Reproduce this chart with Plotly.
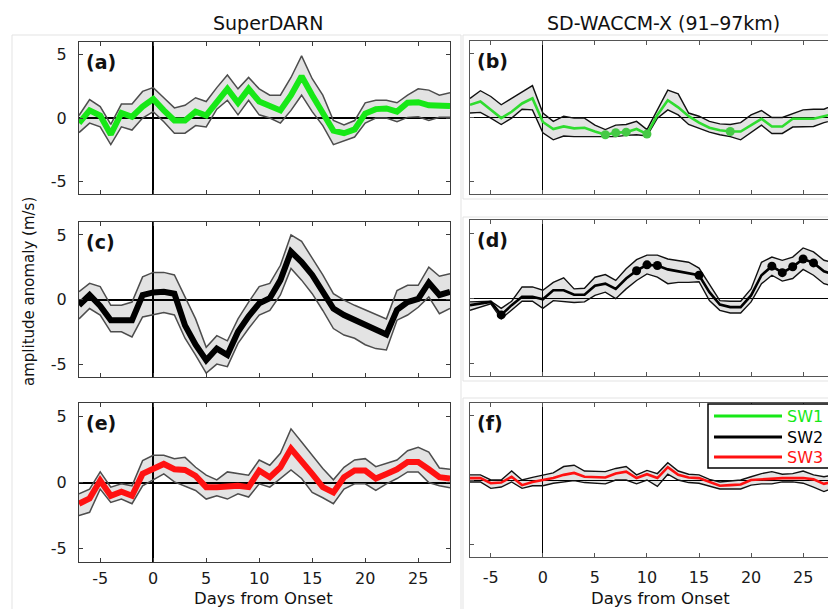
import plotly.graph_objects as go

# ---------------------------------------------------------------- data
days = list(range(-7, 29))
x_tick_vals = [-5, 0, 5, 10, 15, 20, 25]
x_tick_text = ["-5", "0", "5", "10", "15", "20", "25"]
y_tick_vals = [-5, 0, 5]
y_tick_text = ["-5", "0", "5"]

# SuperDARN, SW1
sd_sw1 = [-0.4, 0.6, 0.2, -1.3, 0.4, 0.1, 0.9, 1.5, 0.6, -0.2, -0.2, 0.5, 0.2, 1.3, 2.3, 1.2, 2.3, 1.3,
          0.9, 0.6, 1.8, 3.3, 1.8, 0.5, -1.0, -1.2, -0.9, 0.35, 0.7, 0.75, 0.5, 1.2, 1.25, 1.0, 0.95, 0.95]
sd_sw1_hi = [0.2, 1.45, 0.9, -0.5, 1.1, 1.1, 2.1, 2.4, 1.6, 0.8, 1.0, 1.6, 1.3, 2.4, 3.4, 2.3, 3.2, 2.3,
             1.8, 1.8, 3.2, 4.9, 3.1, 1.8, -0.2, -0.55, -0.2, 1.2, 1.4, 1.4, 1.2, 1.8, 2.3, 2.2, 1.8, 2.0]
sd_sw1_lo = [-1.15, -0.4, -0.7, -2.1, -0.7, -0.95, 0.0, 0.5, -0.3, -1.2, -1.2, -0.6, -0.7, 0.7, 1.4, 0.25,
             1.4, 0.25, 0.0, -0.4, 0.6, 1.8, 0.5, -0.6, -2.1, -1.8, -1.5, -0.4, 0.0, 0.0, -0.3, 0.05, 0.1,
             -0.2, 0.05, 0.05]

# SuperDARN, SW2
sd_sw2 = [-0.45, 0.35, -0.5, -1.6, -1.6, -1.6, 0.35, 0.55, 0.6, 0.45, -2.0, -3.5, -4.7, -3.8, -4.3, -2.5,
          -1.3, -0.3, 0.1, 1.5, 3.7, 2.9, 1.9, 0.6, -0.7, -1.2, -1.6, -2.0, -2.3, -2.7, -0.8, -0.2, 0.05,
          1.3, 0.35, 0.6]
sd_sw2_hi = [0.6, 1.25, 1.0, -0.45, -0.45, -0.2, 1.75, 2.1, 2.1, 1.9, 0.2, -1.5, -3.7, -2.8, -3.2, -1.5,
             -0.2, 1.0, 1.25, 2.65, 5.0, 4.5, 3.2, 1.9, 0.45, -0.05, -0.45, -0.8, -1.1, -1.5, 0.7, 1.1,
             1.1, 2.5, 1.8, 2.0]
sd_sw2_lo = [-1.5, -0.7, -1.2, -2.5, -2.5, -2.9, -1.35, -1.2, -1.0, -1.2, -3.0, -4.3, -5.7, -5.0, -5.2,
             -3.4, -2.25, -1.2, -0.85, 0.35, 2.4, 1.5, 0.45, -0.85, -2.25, -2.75, -3.0, -3.5, -3.8, -3.9,
             -1.6, -1.2, -0.6, 0.2, -1.1, -0.7]

# SuperDARN, SW3
sd_sw3 = [-1.6, -1.2, 0.15, -1.0, -0.7, -1.0, 0.65, 1.0, 1.4, 1.0, 0.95, 0.5, -0.35, -0.35, -0.25, -0.25,
          -0.35, 0.9, 0.4, 1.15, 2.55, 1.65, 0.65, -0.35, -0.75, 0.4, 0.9, 0.9, 0.3, 0.65, 1.0, 1.55,
          1.55, 1.0, 0.4, 0.3]
sd_sw3_hi = [-0.85, -0.5, 0.8, -0.35, -0.1, -0.25, 1.65, 2.05, 2.05, 1.8, 1.9, 1.15, 0.55, 0.2, 0.8, 0.7,
             0.55, 1.7, 1.3, 2.2, 4.05, 3.05, 2.05, 1.05, 0.2, 1.15, 1.7, 1.8, 1.2, 1.45, 1.7, 2.4, 2.65,
             2.3, 1.1, 1.0]
sd_sw3_lo = [-2.5, -2.25, -0.5, -1.5, -1.25, -1.6, -0.25, 0.2, 0.65, 0.05, -0.25, -0.6, -1.25, -1.0,
             -1.25, -0.85, -1.1, -0.1, -0.35, 0.3, 0.95, 0.3, -0.75, -1.15, -1.6, -0.5, -0.1, -0.1, -0.6,
             -0.1, 0.3, 0.8, 0.8, 0.0, -0.25, -0.4]

# SD-WACCM-X, SW1
wx_sw1 = [1.0, 1.25, 0.6, -0.05, 0.45, 1.1, 1.5, -0.35, -0.9, -0.7, -0.85, -0.8, -1.1, -1.35, -1.2, -1.15,
          -0.9, -1.3, 0.2, 1.35, 0.8, 0.1, -0.4, -0.8, -1.0, -1.1, -1.1, -0.6, -0.1, -0.7, -0.7, -0.1,
          -0.1, -0.1, 0.1, 0.3]
wx_sw1_hi = [1.5, 2.1, 1.65, 1.0, 1.5, 2.0, 2.5, 0.35, -0.3, 0.1, -0.05, -0.05, -0.6, -0.95, -0.6, -0.55,
             -0.3, -0.95, 0.6, 2.15, 1.85, 0.35, 0.1, -0.3, -0.5, -0.55, -0.4, 0.2, 0.55, 0.0, 0.0, 0.3,
             0.6, 0.65, 0.65, 1.0]
wx_sw1_lo = [0.35, 0.4, -0.05, -0.55, -0.05, 0.65, 0.6, -1.2, -1.75, -1.45, -1.5, -1.5, -1.5, -1.5, -1.5,
             -1.4, -1.35, -1.45, -0.05, 0.6, 0.2, -0.55, -0.85, -1.15, -1.35, -1.5, -1.75, -1.2, -0.6,
             -1.25, -1.25, -0.75, -0.75, -0.7, -0.4, -0.2]
wx_sw1_sig = [6, 7, 8, 10, 18]

# SD-WACCM-X, SW2
wx_sw2 = [-0.55, -0.45, -0.3, -1.3, -0.55, 0.1, 0.1, -0.1, 0.6, 0.6, 0.25, 0.25, 0.95, 1.1, 0.7, 1.5, 2.1,
          2.55, 2.5, 2.2, 2.05, 1.95, 1.75, 0.45, -0.5, -0.7, -0.7, 0.2, 1.75, 2.45, 1.95, 2.4, 3.0, 2.7,
          2.05, 1.8]
wx_sw2_hi = [-0.3, -0.3, -0.25, -0.8, -0.25, 0.85, 0.85, 0.6, 1.2, 1.55, 0.7, 0.75, 1.6, 1.8, 1.35, 2.25,
             2.95, 3.3, 3.3, 3.0, 2.9, 2.75, 2.3, 1.1, -0.2, -0.25, -0.25, 0.7, 2.75, 3.15, 2.9, 3.15,
             3.85, 3.55, 2.9, 2.7]
wx_sw2_lo = [-0.95, -0.7, -0.45, -1.6, -0.95, -0.25, -0.25, -0.8, -0.2, -0.25, -0.35, -0.3, 0.2, 0.45,
             -0.05, 0.7, 1.35, 1.85, 1.6, 1.1, 1.2, 1.2, 1.25, -0.2, -0.95, -1.15, -1.15, -0.3, 1.1, 1.75,
             1.3, 1.5, 2.2, 1.75, 1.1, 0.9]
wx_sw2_sig = [-4, 9, 10, 11, 15, 22, 23, 24, 25, 26]

# SD-WACCM-X, SW3
wx_sw3 = [0.15, 0.15, -0.25, -0.2, 0.25, -0.4, -0.15, 0.0, 0.15, 0.4, 0.55, 0.25, 0.2, 0.2, 0.5, 0.65,
          0.15, 0.45, 0.15, 1.0, 0.4, 0.2, 0.15, -0.15, -0.45, -0.4, -0.35, 0.0, 0.05, 0.15, 0.15, 0.15,
          0.15, 0.05, -0.3, -0.1]
wx_sw3_hi = [0.4, 0.4, 0.0, 0.0, 0.7, 0.0, 0.2, 0.4, 0.55, 1.05, 1.15, 0.7, 0.65, 0.65, 0.9, 1.05, 0.4,
             0.75, 0.5, 1.35, 0.7, 0.45, 0.4, 0.05, -0.15, -0.05, 0.0, 0.25, 0.5, 0.65, 0.45, 0.5, 0.7,
             0.4, 0.25, 0.4]
wx_sw3_lo = [-0.15, -0.15, -0.65, -0.55, -0.15, -0.65, -0.45, -0.45, -0.25, -0.15, -0.05, -0.2, -0.25,
             -0.3, 0.0, 0.0, -0.3, 0.0, -0.5, 0.45, 0.0, -0.2, -0.25, -0.45, -0.7, -0.7, -0.7, -0.4, -0.3,
             -0.3, -0.15, -0.15, -0.25, -0.55, -0.9, -0.6]

column_titles = ["SuperDARN", "SD-WACCM-X (91–97km)"]
panel_tags = ["(a)", "(b)", "(c)", "(d)", "(e)", "(f)"]
legend_names = ["SW1", "SW2", "SW3"]

# ---------------------------------------------------------------- styling
W, H = 828, 609
FONT = "DejaVu Sans"
GREEN_OBS, GREEN_MOD, DOT_GREEN = "#17e817", "#2fdc2f", "#45c945"
RED, BLACK = "#ff1111", "#000000"
BAND_FILL = "rgba(0,0,0,0.11)"


def px(x):
    return x / W


def py(y):
    return 1 - y / H


# pixel boxes (left, top, right, bottom) of the six axes
boxes = [
    (79, 42, 450, 194), (470, 41, 828, 194),
    (79, 222, 450, 377), (470, 220, 828, 376),
    (79, 403, 450, 562), (470, 403, 828, 557),
]

panels = [
    (sd_sw1, sd_sw1_hi, sd_sw1_lo, GREEN_OBS, None, None),
    (wx_sw1, wx_sw1_hi, wx_sw1_lo, GREEN_MOD, wx_sw1_sig, DOT_GREEN),
    (sd_sw2, sd_sw2_hi, sd_sw2_lo, BLACK, None, None),
    (wx_sw2, wx_sw2_hi, wx_sw2_lo, BLACK, wx_sw2_sig, BLACK),
    (sd_sw3, sd_sw3_hi, sd_sw3_lo, RED, None, None),
    (wx_sw3, wx_sw3_hi, wx_sw3_lo, RED, None, None),
]

fig = go.Figure()
layout_axes = {}

for i, (mean, hi, lo, color, sig, dot_color) in enumerate(panels):
    n = i + 1
    xa = "x" if n == 1 else f"x{n}"
    ya = "y" if n == 1 else f"y{n}"
    left_col = (i % 2 == 0)
    bottom_row = i >= 4
    edge_color = "#4d4d4d" if left_col else "#111111"
    edge_w = 1.5 if left_col else 1.4
    mean_w = 6 if left_col else 2.6

    fig.add_trace(go.Scatter(x=days, y=hi, xaxis=xa, yaxis=ya, mode="lines",
                             line=dict(color=edge_color, width=edge_w), hoverinfo="skip"))
    fig.add_trace(go.Scatter(x=days, y=lo, xaxis=xa, yaxis=ya, mode="lines", fill="tonexty",
                             fillcolor=BAND_FILL, line=dict(color=edge_color, width=edge_w),
                             hoverinfo="skip"))
    fig.add_trace(go.Scatter(x=days, y=mean, xaxis=xa, yaxis=ya, mode="lines",
                             line=dict(color=color, width=mean_w)))
    if sig:
        sig_vals = [mean[days.index(d)] for d in sig]
        fig.add_trace(go.Scatter(x=sig, y=sig_vals, xaxis=xa, yaxis=ya, mode="markers",
                                 marker=dict(color=dot_color, size=9, line=dict(width=0))))

    l, t, r, b = boxes[i]
    axis_color = "#3a3a3a" if left_col else "#555555"
    zero_w = 2 if left_col else 1.3
    xkey = "xaxis" if n == 1 else f"xaxis{n}"
    ykey = "yaxis" if n == 1 else f"yaxis{n}"
    layout_axes[xkey] = dict(
        domain=[px(l), px(r)], anchor=ya,
        range=[-7, 28] if left_col else [-7, (r - l) / 10.41 - 7],
        tickvals=x_tick_vals, ticktext=x_tick_text, showticklabels=bottom_row,
        ticks="inside", ticklen=4, tickcolor=axis_color, tickwidth=1,
        showline=True, linecolor=axis_color, linewidth=1.2, mirror="ticks",
        showgrid=False, zeroline=True, zerolinecolor="black", zerolinewidth=zero_w,
        tickfont=dict(family=FONT, size=16, color="#1a1a1a"),
        ticklabelstandoff=2 if left_col else 6,
    )
    layout_axes[ykey] = dict(
        domain=[py(b), py(t)], anchor=xa, range=[-6, 6],
        tickvals=y_tick_vals, ticktext=y_tick_text, showticklabels=left_col,
        ticks="inside", ticklen=4, tickcolor=axis_color, tickwidth=1,
        showline=True, linecolor=axis_color, linewidth=1.2,
        mirror="ticks" if left_col else False,
        showgrid=False, zeroline=True, zerolinecolor="black", zerolinewidth=zero_w,
        tickfont=dict(family=FONT, size=16, color="#1a1a1a"),
        ticklabelstandoff=8,
    )

annotations = []
# column headings
for text, cx in zip(column_titles, [268, 663]):
    annotations.append(dict(text=text, x=px(cx), y=py(23), xref="paper", yref="paper",
                            showarrow=False, xanchor="center", yanchor="middle",
                            font=dict(family=FONT, size=19, color="#111")))
# panel tags
for tag, (l, t, r, b) in zip(panel_tags, boxes):
    annotations.append(dict(text=f"<b>{tag}</b>", x=px(l + 5), y=py(t + 20), xref="paper", yref="paper",
                            showarrow=False, xanchor="left", yanchor="middle",
                            font=dict(family=FONT, size=19, color="#111")))
# shared axis titles
for cx in [263, 660]:
    annotations.append(dict(text="Days from Onset", x=px(cx), y=py(598), xref="paper", yref="paper",
                            showarrow=False, xanchor="center", yanchor="middle",
                            font=dict(family=FONT, size=16.5, color="#111")))
annotations.append(dict(text="amplitude anomaly (m/s)", x=px(29), y=py(292), xref="paper", yref="paper",
                        showarrow=False, textangle=-90, xanchor="center", yanchor="middle",
                        font=dict(family=FONT, size=15, color="#111")))

shapes = []
# light panel frames
frame = dict(type="rect", xref="paper", yref="paper", line=dict(color="#e3e3e3", width=1),
             fillcolor="rgba(0,0,0,0)", layer="below")
shapes.append(dict(frame, x0=px(12), x1=px(461), y0=py(35), y1=py(620)))
for top, bot in [(35, 199), (217, 381), (398, 620)]:
    shapes.append(dict(frame, x0=px(463), x1=px(840), y0=py(top), y1=py(bot)))

# legend box in panel (f)
shapes.append(dict(type="rect", xref="paper", yref="paper", x0=px(708), x1=px(845), y0=py(468), y1=py(404),
                   line=dict(color="black", width=1.5), fillcolor="white", layer="above"))
for name, col, ly in zip(legend_names, [GREEN_OBS, BLACK, RED], [416, 437, 457]):
    shapes.append(dict(type="line", xref="paper", yref="paper", x0=px(714), x1=px(782), y0=py(ly), y1=py(ly),
                       line=dict(color=col, width=3), layer="above"))
    annotations.append(dict(text=name, x=px(785), y=py(ly), xref="paper", yref="paper", showarrow=False,
                            xanchor="left", yanchor="middle", font=dict(family=FONT, size=16, color=col)))

fig.update_layout(
    width=W, height=H, margin=dict(l=0, r=0, t=0, b=0),
    paper_bgcolor="white", plot_bgcolor="white", showlegend=False,
    annotations=annotations, shapes=shapes, **layout_axes,
)

fig.write_html("out.html")
